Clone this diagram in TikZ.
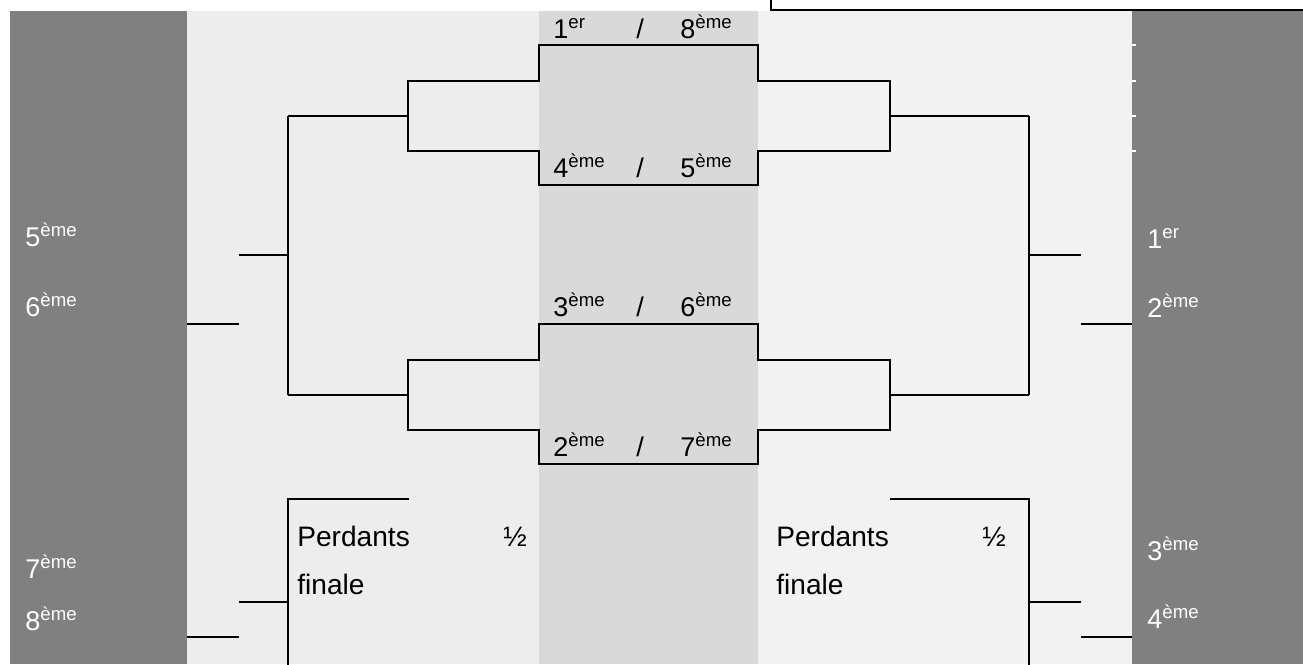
\documentclass[tikz,border=0pt]{standalone}
\usepackage{fontspec}
\setmainfont{Liberation Sans}

\definecolor{darkpanel}{gray}{0.5}
\definecolor{leftpanel}{HTML}{EDEDED}
\definecolor{midpanel}{HTML}{D9D9D9}
\definecolor{rightpanel}{HTML}{F2F2F2}
\newcommand{\rg}[1]{\raisebox{5.6pt}{\fontsize{10.6}{12}\selectfont #1}}

\begin{document}
\begin{tikzpicture}[x=0.02cm, y=-0.02cm,
	bracket/.style={line width=1.1pt},
	lbl/.style={anchor=base west, inner sep=0pt, font=\fontsize{15.4}{18}\selectfont},
	note/.style={lbl, font=\fontsize{16}{19}\selectfont},
	rank/.style={lbl, text=white}]
	 \useasboundingbox (0,0) rectangle (1303,664);
	 %% panels
	 \fill[white] (0,0) rectangle (1303,664);
	 \fill[darkpanel] (10,11) rectangle (187,664);
	 \fill[leftpanel] (187,11) rectangle (539,664);
	 \fill[midpanel] (539,11) rectangle (758,664);
	 \fill[rightpanel] (758,11) rectangle (1132,664);
	 \fill[darkpanel] (1132,11) rectangle (1303,664);
	 \draw[line width=0.6pt] (771,-2) -- (771,10) -- (1306,10);
	 \foreach \ty in {45,81,116,151}
	 	\draw[white, line width=0.8pt] (1132,\ty) -- (1136,\ty);
	 %% quarter finals
	 \foreach \dy in {0,279} {
	 	\draw[bracket] (408,81+\dy) -- (539,81+\dy) -- (539,45+\dy) -- (758,45+\dy) -- (758,81+\dy)
	 		-- (890,81+\dy) -- (890,151+\dy) -- (758,151+\dy) -- (758,185+\dy) -- (539,185+\dy)
	 		-- (539,151+\dy) -- (408,151+\dy) -- cycle;
	 	\draw[bracket] (288,116+\dy) -- (408,116+\dy);
	 	\draw[bracket] (890,116+\dy) -- (1029,116+\dy);
	 }
	 %% semi finals and finals
	 \draw[bracket] (288,116) -- (288,395);
	 \draw[bracket] (239,255) -- (288,255);
	 \draw[bracket] (187,324) -- (239,324);
	 \draw[bracket] (1029,116) -- (1029,395);
	 \draw[bracket] (1029,255) -- (1081,255);
	 \draw[bracket] (1081,324) -- (1132,324);
	 %
	 \draw[bracket] (409,499) -- (288,499) -- (288,666);
	 \draw[bracket] (239,602) -- (288,602);
	 \draw[bracket] (187,637) -- (239,637);
	 \draw[bracket] (890,499) -- (1029,499) -- (1029,666);
	 \draw[bracket] (1029,602) -- (1081,602);
	 \draw[bracket] (1081,637) -- (1132,637);
	 %% seeds
	 \foreach \a/\b/\yy/\nm in {1\rg{er}/8\rg{ème}/38/qa, 4\rg{ème}/5\rg{ème}/177/qb,
	 	3\rg{ème}/6\rg{ème}/316/qc, 2\rg{ème}/7\rg{ème}/456/qd} {
	 	\node[lbl] (\nm-l) at (553,\yy) {\a};
	 	\node[lbl] (\nm-s) at (636,\yy) {/};
	 	\node[lbl] (\nm-r) at (680,\yy) {\b};
	 }
	 %% places
	 \node[rank] (place5) at (25,246) {5\rg{ème}};
	 \node[rank] (place6) at (25,316) {6\rg{ème}};
	 \node[rank] (place7) at (25,578) {7\rg{ème}};
	 \node[rank] (place8) at (25,630) {8\rg{ème}};
	 \node[rank] (place1) at (1147,248) {1\rg{er}};
	 \node[rank] (place2) at (1147,317) {2\rg{ème}};
	 \node[rank] (place3) at (1147,560) {3\rg{ème}};
	 \node[rank] (place4) at (1147,628) {4\rg{ème}};
	 %% losers of the semi finals
	 \foreach \px/\side in {297/left, 776/right} {
	 	\node[note] (perd-\side) at (\px,546) {Perdants};
	 	\node[note] (half-\side) at (\px+206,546) {½};
	 	\node[note] (fin-\side) at (\px,594) {finale};
	 }
\end{tikzpicture}
\end{document}
